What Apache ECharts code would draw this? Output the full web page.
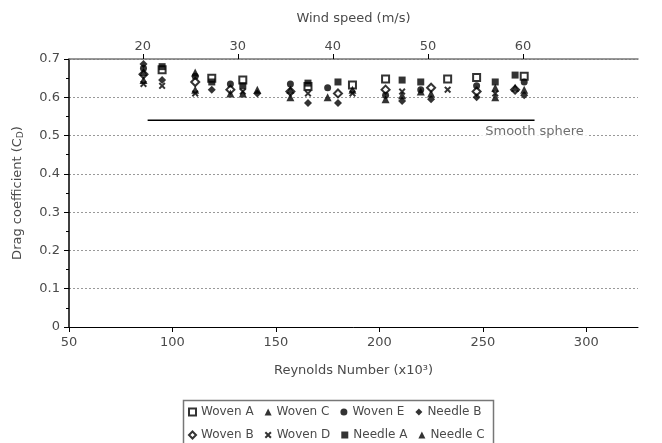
<!DOCTYPE html>
<html>
<head>
<meta charset="utf-8">
<script src="https://cdn.jsdelivr.net/npm/echarts@6/dist/echarts.min.js"></script>
<style>
  html, body { margin: 0; padding: 0; background: #fff; }
  #chart { width: 662px; height: 443px; }
</style>
</head>
<body>
<div id="chart"></div>
<script>
// Drag coefficient of balls against Reynolds number (x10^3); top axis shows wind speed.
const reTicks = [50, 100, 150, 200, 250, 300];
const speedTicks = [20, 30, 40, 50, 60];
const cdTicks = [0, 0.1, 0.2, 0.3, 0.4, 0.5, 0.6, 0.7];

// [Re x10^3, Cd] per ball
const wovenA = [[95, 0.672], [119, 0.65], [134, 0.645], [165.5, 0.628], [187, 0.632], [203, 0.648], [233, 0.648], [247, 0.652], [270, 0.655]];
const wovenB = [[86, 0.66], [111, 0.64], [128, 0.62], [157, 0.615], [180, 0.61], [203, 0.62], [225, 0.625], [247, 0.615], [265.6, 0.62]];
const wovenC = [[86, 0.645], [111, 0.62], [128, 0.61], [157, 0.6], [175, 0.6], [211, 0.605], [225, 0.61], [256, 0.625], [265.6, 0.625]];
const wovenD = [[86, 0.635], [95, 0.63], [111, 0.61], [134, 0.615], [165.5, 0.61], [187, 0.61], [211, 0.615], [233, 0.62], [256, 0.61]];
const wovenE = [[86, 0.676], [111, 0.655], [128, 0.635], [157, 0.635], [175, 0.625], [203, 0.605], [220, 0.62], [247, 0.63], [270, 0.64]];
const needleA = [[95, 0.68], [119, 0.64], [134, 0.63], [165.5, 0.637], [180, 0.64], [211, 0.645], [220, 0.64], [256, 0.64], [265.6, 0.658]];
const needleB = [[86, 0.687], [95, 0.645], [119, 0.62], [141, 0.61], [165.5, 0.585], [180, 0.585], [211, 0.59], [225, 0.595], [247, 0.6], [270, 0.605]];
const needleC = [[86, 0.666], [111, 0.665], [134, 0.61], [141, 0.62], [157, 0.62], [187, 0.62], [203, 0.595], [220, 0.615], [256, 0.6], [270, 0.62]];

// Smooth sphere reference
const smoothRe = [88, 275];
const smoothCd = 0.54;

const FONT = 'DejaVu Sans';
const TXT = '#4a4a4a';
const crossPath = 'path://M2,0L5,3L8,0L10,2L7,5L10,8L8,10L5,7L2,10L0,8L3,5L0,2Z';

const ballSeries = [
  { name: 'Woven A', data: wovenA, symbol: 'emptyRect', size: 7 },
  { name: 'Woven B', data: wovenB, symbol: 'emptyDiamond', size: 8 },
  { name: 'Woven C', data: wovenC, symbol: 'triangle', size: 8 },
  { name: 'Woven D', data: wovenD, symbol: crossPath, size: 7 },
  { name: 'Woven E', data: wovenE, symbol: 'circle', size: 7 },
  { name: 'Needle A', data: needleA, symbol: 'rect', size: 7 },
  { name: 'Needle B', data: needleB, symbol: 'diamond', size: 8 },
  { name: 'Needle C', data: needleC, symbol: 'triangle', size: 8 }
].map(s => ({
  name: s.name,
  type: 'scatter',
  xAxisIndex: 0,
  yAxisIndex: 0,
  data: s.data,
  symbol: s.symbol,
  symbolSize: s.size,
  itemStyle: { color: '#000', borderColor: '#000', borderWidth: s.symbol.startsWith('empty') ? 1.5 : 0 },
  emphasis: { disabled: true },
  z: 3
}));

const legendCommon = {
  orient: 'horizontal',
  itemWidth: 7,
  itemHeight: 7,
  itemGap: 11,
  textStyle: { fontFamily: FONT, fontSize: 12, color: TXT },
  selectedMode: false,
  inactiveColor: '#000'
};

const chart = echarts.init(document.getElementById('chart'), null, { renderer: 'canvas' });
chart.setOption({
  animation: false,
  backgroundColor: '#fff',
  textStyle: { fontFamily: FONT },
  grid: { left: 69, right: 24, top: 59, bottom: 116 },
  xAxis: [
    {
      type: 'value',
      position: 'bottom',
      min: 50,
      max: 325,
      name: 'Reynolds Number (x10\u00B3)',
      nameLocation: 'middle',
      nameGap: 37,
      nameTextStyle: { fontFamily: FONT, fontSize: 13, color: TXT },
      axisLine: { show: true, onZero: false, lineStyle: { color: '#000', width: 1 } },
      axisTick: { show: true, length: 5, customValues: reTicks, lineStyle: { color: '#000' } },
      axisLabel: { customValues: reTicks, margin: 9, fontFamily: FONT, fontSize: 13, color: TXT },
      splitLine: { show: false }
    },
    {
      type: 'value',
      position: 'top',
      min: 12.24,
      max: 72.1,
      name: 'Wind speed (m/s)',
      nameLocation: 'middle',
      nameGap: 34,
      nameTextStyle: { fontFamily: FONT, fontSize: 13, color: TXT },
      axisLine: { show: true, onZero: false, lineStyle: { color: '#777', width: 1.5 } },
      axisTick: { show: true, length: 5, customValues: speedTicks, lineStyle: { color: '#000' } },
      axisLabel: { customValues: speedTicks, margin: 6, fontFamily: FONT, fontSize: 13, color: TXT },
      splitLine: { show: false }
    }
  ],
  yAxis: {
    type: 'value',
    min: 0,
    max: 0.7,
    interval: 0.1,
    name: '{t|Drag coefficient (C}{s|D}{t|)}',
    nameLocation: 'middle',
    nameGap: 44,
    nameRotate: 90,
    nameTextStyle: {
      rich: {
        t: { fontFamily: FONT, fontSize: 13, color: TXT },
        s: { fontFamily: FONT, fontSize: 9, color: TXT, verticalAlign: 'bottom', padding: [6, 0, 0, 0] }
      }
    },
    axisLine: { show: true, onZero: false, lineStyle: { color: '#000', width: 1.5 } },
    axisTick: { show: true, length: 5, lineStyle: { color: '#000' } },
    minorTick: { show: true, splitNumber: 2, length: 3, lineStyle: { color: '#000' } },
    axisLabel: {
      margin: 9, fontFamily: FONT, fontSize: 13, color: TXT,
      formatter: v => (v === 0 ? '0' : v.toFixed(1))
    },
    splitLine: { show: true, lineStyle: { color: '#999', type: [2, 2], width: 1 } }
  },
  legend: [
    Object.assign({}, legendCommon, { left: 183, top: 401, data: ['Woven A', 'Woven C', 'Woven E', 'Needle B'] }),
    Object.assign({}, legendCommon, { left: 183, top: 424, data: ['Woven B', 'Woven D', 'Needle A', 'Needle C'] })
  ],
  graphic: [
    {
      type: 'rect',
      left: 181,
      top: 398,
      shape: { width: 310, height: 60 },
      style: { fill: 'none', stroke: '#777', lineWidth: 1.5 },
      silent: true
    }
  ],
  series: ballSeries.concat([
    {
      name: 'Smooth sphere',
      type: 'line',
      data: smoothRe.map(r => [r, smoothCd]),
      showSymbol: false,
      symbol: 'none',
      lineStyle: { color: '#000', width: 1.5 },
      silent: true,
      z: 2
    },
    {
      name: 'Smooth sphere label',
      type: 'scatter',
      data: [[smoothRe[1], smoothCd]],
      symbolSize: 1,
      itemStyle: { color: 'rgba(0,0,0,0)' },
      label: {
        show: true,
        position: 'bottom',
        distance: 2,
        formatter: 'Smooth sphere',
        fontFamily: FONT,
        fontSize: 13,
        color: TXT,
        backgroundColor: '#fff',
        padding: [2, 5, 2, 5]
      },
      silent: true
    }
  ])
});
</script>
</body>
</html>
